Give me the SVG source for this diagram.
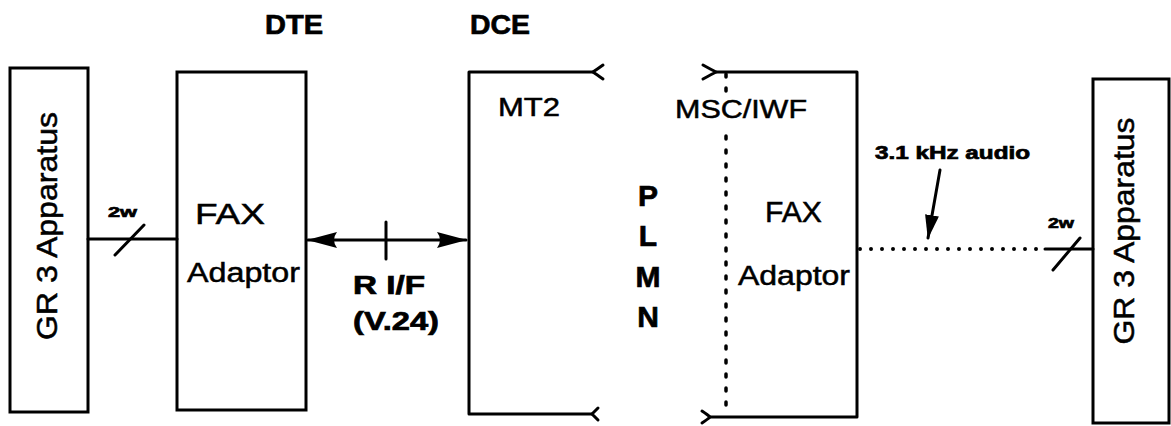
<svg xmlns="http://www.w3.org/2000/svg" width="1171" height="426" viewBox="0 0 1171 426">
<style>
text{font-family:"Liberation Sans",Arial,Helvetica,sans-serif;fill:#000;stroke:#000;stroke-width:0.5}
.b{font-weight:bold;stroke-width:0.7}
.box{fill:none;stroke:#000;stroke-width:3}
.ln{fill:none;stroke:#000;stroke-width:3;stroke-linecap:round;stroke-linejoin:round}
.dot{fill:none;stroke:#000;stroke-width:4;stroke-linecap:round;stroke-dasharray:0 11}
.vdot{fill:none;stroke:#000;stroke-width:3.5;stroke-linecap:round;stroke-dasharray:3 11}
</style>
<defs>
<marker id="ah" viewBox="0 0 30 16" refX="29" refY="8" markerWidth="30" markerHeight="16" markerUnits="userSpaceOnUse" orient="auto-start-reverse">
<path d="M0,0 L30,8 L0,16 Q6,8 0,0 Z" fill="#000"/>
</marker>
<marker id="ah2" viewBox="0 0 24 14" refX="23" refY="7" markerWidth="24" markerHeight="14" markerUnits="userSpaceOnUse" orient="auto">
<path d="M0,0 L24,7 L0,14 Z" fill="#000"/>
</marker>
</defs>

<g id="headers">
<text class="b" x="265" y="34" font-size="28" textLength="58" lengthAdjust="spacingAndGlyphs">DTE</text>
<text class="b" x="470" y="34" font-size="28" textLength="60" lengthAdjust="spacingAndGlyphs">DCE</text>
</g>

<g id="gr3-left">
<rect class="box" x="10" y="68" width="78" height="344"/>
<text transform="translate(57,226) rotate(-90)" text-anchor="middle" font-size="29" textLength="228" lengthAdjust="spacingAndGlyphs">GR 3 Apparatus</text>
</g>

<g id="fax-left">
<rect class="box" x="177" y="72" width="129" height="338"/>
<text x="195" y="224" font-size="30" textLength="70" lengthAdjust="spacingAndGlyphs">FAX</text>
<text x="187" y="282" font-size="27" textLength="113" lengthAdjust="spacingAndGlyphs">Adaptor</text>
</g>

<g id="mt2">
<path class="ln" d="M593,72 L469,72 L469,414 L592,414"/>
<path class="ln" d="M603,65 Q596,70 593,72 Q596,74 603,79"/>
<path class="ln" d="M598,408 Q594,412 592,414 Q594,416 598,420"/>
<text x="498" y="116" font-size="25" textLength="62" lengthAdjust="spacingAndGlyphs">MT2</text>
</g>

<g id="plmn">
<text class="b" x="648" y="206" font-size="30" text-anchor="middle">P</text>
<text class="b" x="648" y="246" font-size="30" text-anchor="middle">L</text>
<text class="b" x="648" y="287" font-size="30" text-anchor="middle">M</text>
<text class="b" x="648" y="327" font-size="30" text-anchor="middle">N</text>
</g>

<g id="msc-iwf">
<path class="ln" d="M716,72 L857,72 L857,417 L710,417"/>
<path class="ln" d="M703,65 Q712,70 716,72 Q712,74 703,79"/>
<path class="ln" d="M702,411 Q708,415 710,417 Q708,419 702,423"/>
<path class="vdot" d="M726,74 L726,93"/>
<path class="vdot" d="M726,136 L726,414"/>
<text x="675" y="118" font-size="26" textLength="132" lengthAdjust="spacingAndGlyphs">MSC/IWF</text>
<text x="765" y="222" font-size="30" textLength="57" lengthAdjust="spacingAndGlyphs">FAX</text>
<text x="738" y="285" font-size="27" textLength="112" lengthAdjust="spacingAndGlyphs">Adaptor</text>
</g>

<g id="gr3-right">
<rect class="box" x="1093" y="79" width="76" height="344"/>
<text transform="translate(1134,231) rotate(-90)" text-anchor="middle" font-size="29" textLength="227" lengthAdjust="spacingAndGlyphs">GR 3 Apparatus</text>
</g>

<g id="connectors">
<line class="ln" x1="88" y1="239" x2="177" y2="239"/>
<line class="ln" x1="115" y1="255" x2="144" y2="225"/>
<text class="b" x="108" y="217" font-size="15" textLength="29" lengthAdjust="spacingAndGlyphs">2w</text>

<line class="ln" x1="308" y1="240" x2="466" y2="240" marker-start="url(#ah)" marker-end="url(#ah)"/>
<line class="ln" x1="386" y1="222" x2="386" y2="259"/>
<text class="b" x="389" y="294" font-size="25" text-anchor="middle" textLength="72" lengthAdjust="spacingAndGlyphs">R I/F</text>
<text class="b" x="396" y="330" font-size="25" text-anchor="middle" textLength="86" lengthAdjust="spacingAndGlyphs">(V.24)</text>

<line class="dot" x1="860" y1="249" x2="1040" y2="249"/>
<line class="ln" x1="1045" y1="249" x2="1093" y2="249"/>
<line class="ln" x1="1053" y1="270" x2="1080" y2="238"/>
<text class="b" x="1048" y="228" font-size="15" textLength="26" lengthAdjust="spacingAndGlyphs">2w</text>

<text class="b" x="875" y="159" font-size="18" textLength="155" lengthAdjust="spacingAndGlyphs">3.1 kHz audio</text>
<line class="ln" x1="940" y1="170" x2="928" y2="238" marker-end="url(#ah2)"/>
</g>
</svg>
